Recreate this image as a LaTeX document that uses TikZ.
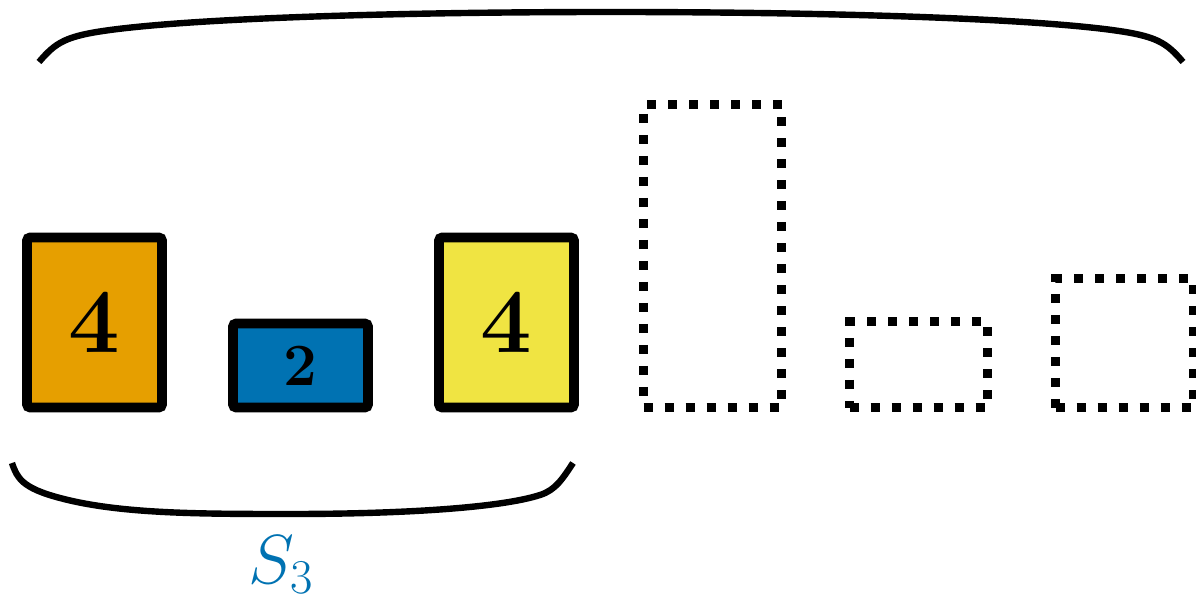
\RequirePackage{fix-cm}
\documentclass[tikz,border=0pt]{standalone}
\definecolor{okorange}{HTML}{E69F00}
\definecolor{okblue}{HTML}{0072B2}
\definecolor{okyellow}{HTML}{F0E442}
\begin{document}
\begin{tikzpicture}[x=0.5pt,y=-0.5pt,
  bar/.style={draw=black, line width=4.8pt, rounded corners=1.5pt, minimum width=67.5pt, inner sep=0pt, outer sep=0pt, anchor=south},
  ghost/.style={draw=black, line width=4.5pt, dash pattern=on 4.5pt off 6pt, minimum width=69pt, inner sep=0pt, outer sep=0pt, anchor=south},
  brace/.style={draw=black, line width=3.2pt},
  bignum/.style={font=\fontsize{45.8}{50}\selectfont\bfseries},
  smallnum/.style={font=\fontsize{30}{34}\selectfont\bfseries},
  setlabel/.style={text=okblue, font=\fontsize{28}{32}\selectfont, anchor=base, inner sep=0pt}
]
\useasboundingbox (0,0) rectangle (1196,604);
\node[bar, fill=okorange, minimum height=85pt, bignum] (b1) at (94.5,407.5) {4};
\node[bar, fill=okblue, minimum height=42pt, smallnum] (b2) at (300.5,407.5) {2};
\node[bar, fill=okyellow, minimum height=85pt, bignum] (b3) at (506.5,407.5) {4};
\node[ghost, minimum height=151.5pt] (g1) at (712.5,408) {};
\node[ghost, minimum height=43pt] (g2) at (918.5,408) {};
\node[ghost, minimum height=64.5pt] (g3) at (1124.5,408) {};
\draw[brace] (39,62) .. controls (56,42) and (66,36) .. (110,30)
  .. controls (200,18) and (400,12) .. (611,12)
  .. controls (822,12) and (1022,18) .. (1112,30)
  .. controls (1156,36) and (1166,42) .. (1183,62);
\draw[brace] (12,463) .. controls (17,478) and (22,488) .. (60,498)
  .. controls (120,514) and (200,514) .. (292,514)
  .. controls (400,514) and (500,508) .. (540,495)
  .. controls (556,490) and (563,478) .. (573,463);
\node[setlabel] (s3) at (281.5,583) {\scalebox{1.24}{$S_3$}};
\end{tikzpicture}
\end{document}
